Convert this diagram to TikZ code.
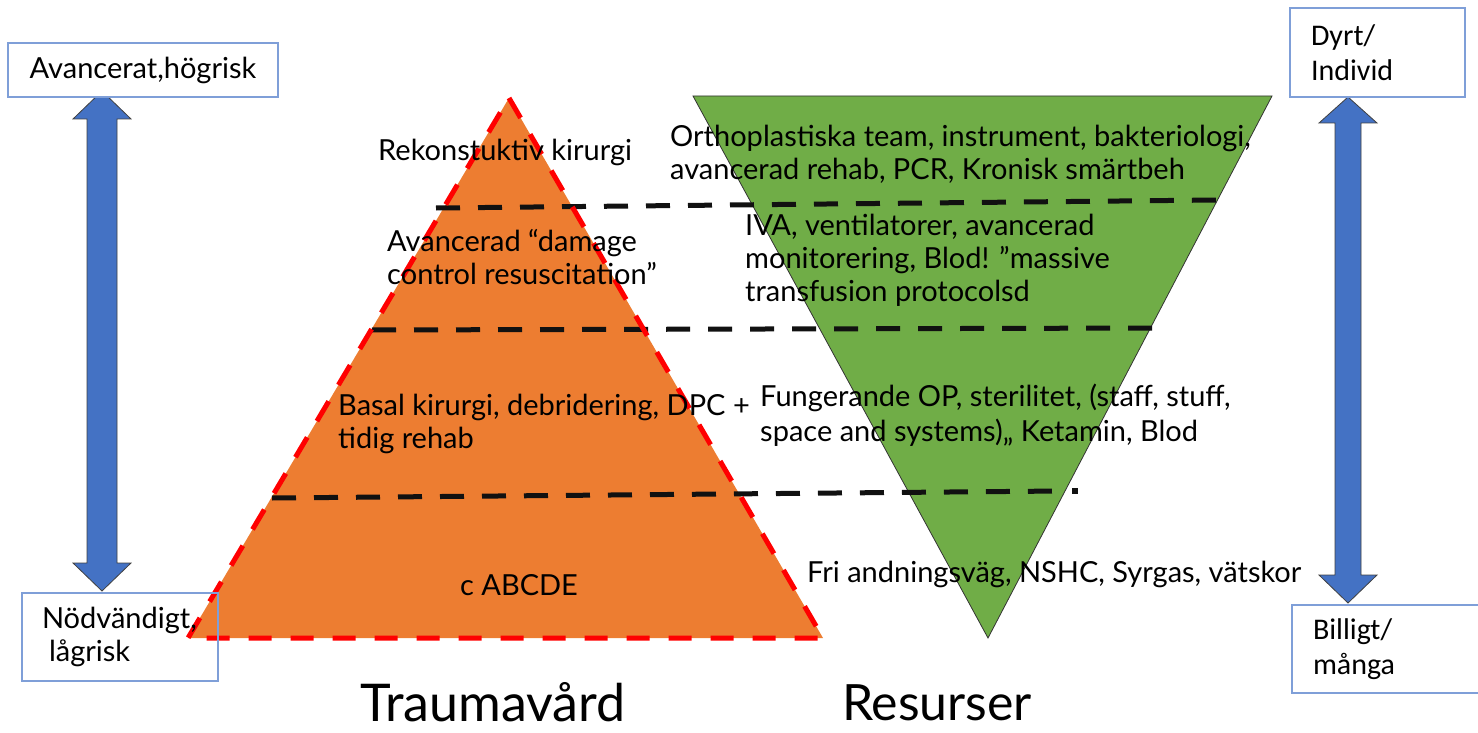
\documentclass[tikz,border=0pt]{standalone}
\usepackage{fontspec}
\setmainfont{Lato}
\newfontfamily\boxfont{Carlito}
\definecolor{orangefill}{HTML}{ED7D31}
\definecolor{greenfill}{HTML}{70AD47}
\definecolor{arrowblue}{HTML}{4472C4}
\definecolor{boxline}{HTML}{7F9FD8}
\definecolor{dashblack}{HTML}{111111}

% vertical double block arrow: centre x, shaft half width, head half width,
% top tip, top head base, bottom head base, bottom tip
\newcommand\vdoublearrow[7]{%
  \draw[blockarrow] (#1,#4) -- (#1+#3,#5) -- (#1+#2,#5) -- (#1+#2,#6) -- (#1+#3,#6)
    -- (#1,#7) -- (#1-#3,#6) -- (#1-#2,#6) -- (#1-#2,#5) -- (#1-#3,#5) -- cycle;}

\begin{document}
\begin{tikzpicture}[x=1pt,y=-1pt,
  lbl/.style={font=\fontsize{29}{33}\selectfont, align=left, inner sep=0pt, anchor=west},
  sidebox/.style={draw=boxline, line width=1.3pt, inner sep=0pt, align=left},
  blockarrow/.style={fill=arrowblue, draw=black!75, line width=0.8pt},
  levelline/.style={draw=dashblack, line width=5pt, dash pattern=on 24pt off 18pt},
  title/.style={inner sep=0pt, anchor=base}]
\useasboundingbox (0,0) rectangle (1478,733);

% pyramid of care levels
\fill[orangefill] (509,98) -- (823,638) -- (188,638) -- cycle;
% inverted resource triangle
\draw[fill=greenfill, draw=black!80, line width=0.8pt] (693,96) -- (1272,96) -- (988,638) -- cycle;

% level separators
\draw[levelline] (436,208) -- (1217,200);
\draw[levelline] (372,330) -- (1157,328);
\draw[levelline] (272,498) -- (1062,491);
\fill[dashblack] (1072,488) rectangle (1078,494);

% dashed outline of the pyramid
\draw[red, line width=5pt, dash pattern=on 23pt off 19pt] (509,98) -- (823,638) -- (188,638) -- cycle;

% care levels
\node[lbl] (l4) at (378,152) {Rekonstuktiv kirurgi};
\node[lbl] (l3) at (387,257) {Avancerad “damage\\control resuscitation”};
\node[lbl] (l2) at (338,424) {Basal kirurgi, debridering, DPC +\\tidig rehab};
\node[lbl, anchor=center] (l1) at (519,585) {c ABCDE};

% resources per level
\node[lbl] (r4) at (670,154) {Orthoplastiska team, instrument, bakteriologi,\\avancerad rehab, PCR, Kronisk smärtbeh};
\node[lbl] (r3) at (745,260) {IVA, ventilatorer, avancerad\\monitorering, Blod! ”massive\\transfusion protocolsd};
\node[lbl, font=\fontsize{29}{35}\selectfont] (r2) at (760,415) {Fungerande OP, sterilitet, (staff, stuff,\\space and systems),, Ketamin, Blod};
\node[lbl] (r1) at (807,574) {Fri andningsväg, NSHC, Syrgas, vätskor};

% axis labels
\node[title, font=\fontsize{52}{56}\selectfont] (tcare) at (493,721) {Traumavård};
\node[title, font=\fontsize{50}{54}\selectfont] (tres) at (937,720) {Resurser};

% scale arrows
\vdoublearrow{102}{15}{29}{91}{119}{563}{591}
\vdoublearrow{1348}{13}{29}{97}{123}{575}{603}

% scale end boxes
\node[sidebox, fill=white, font=\fontsize{29}{33}\selectfont, minimum width=270, minimum height=54, align=center] (hi) at (143,70) {Avancerat,högrisk};
\node[sidebox, font=\fontsize{29}{33}\selectfont, text width=156, minimum height=88, inner xsep=20pt] (lo) at (120,637) {Nödvändigt,\\\hspace*{7pt}lågrisk};
\node[sidebox, fill=white, font=\boxfont\fontsize{30}{35}\selectfont, text width=133, minimum height=89, inner xsep=21pt] (dyr) at (1377.5,52.5) {Dyrt/\\Individ};
\node[sidebox, fill=white, font=\boxfont\fontsize{30}{35}\selectfont, text width=150, minimum height=88, inner xsep=21pt] (bil) at (1388,649) {Billigt/\\många};
\end{tikzpicture}
\end{document}
